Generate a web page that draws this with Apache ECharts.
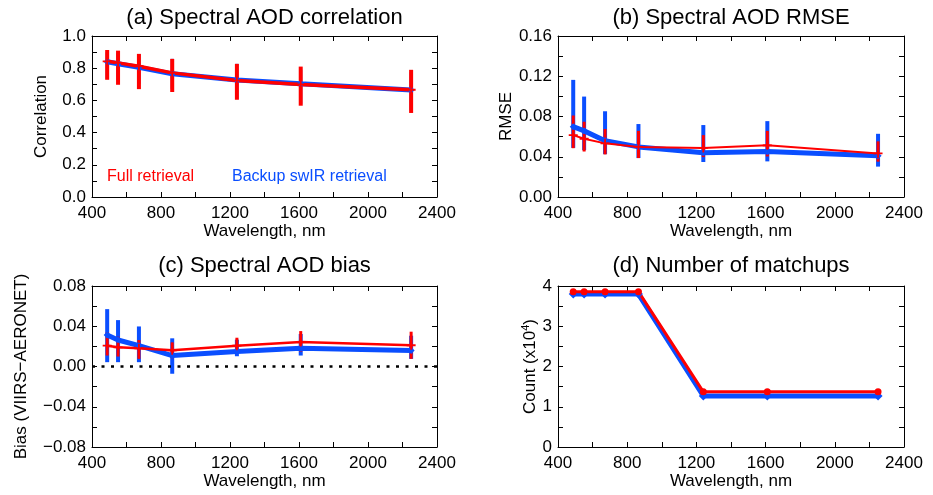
<!DOCTYPE html>
<html lang="en">
<head>
<meta charset="UTF-8">
<title>Spectral AOD validation</title>
<style>
  html, body { margin: 0; padding: 0; background: #fff; }
  #main { width: 933px; height: 495px; }
</style>
</head>
<body>
<div id="main"></div>
<script src="https://cdn.jsdelivr.net/npm/echarts@6/dist/echarts.min.js"></script>
<script>
// band centres, nm
var wavelengths = [488, 551, 672, 865, 1240, 1610, 2250];

// (a) correlation
var corrFull   = [0.843, 0.833, 0.812, 0.771, 0.724, 0.699, 0.666];
var corrFullLo = [0.728, 0.697, 0.670, 0.652, 0.604, 0.567, 0.522];
var corrFullHi = [0.913, 0.909, 0.889, 0.858, 0.827, 0.810, 0.790];
var corrSwir   = [0.840, 0.828, 0.805, 0.765, 0.727, 0.703, 0.665];
var corrSwirLo = [0.734, 0.724, 0.703, 0.672, 0.610, 0.579, 0.538];
var corrSwirHi = [0.899, 0.893, 0.885, 0.858, 0.827, 0.790, 0.775];

// (b) rmse
var rmseFull   = [0.0615, 0.0579, 0.0533, 0.0498, 0.0488, 0.0514, 0.0433];
var rmseFullLo = [0.0485, 0.0452, 0.0423, 0.0387, 0.0397, 0.0403, 0.0351];
var rmseFullHi = [0.0810, 0.0748, 0.0676, 0.0657, 0.0615, 0.0657, 0.0553];
var rmseSwir   = [0.0699, 0.0657, 0.0560, 0.0498, 0.0439, 0.0452, 0.0410];
var rmseSwirLo = [0.0488, 0.0465, 0.0426, 0.0387, 0.0348, 0.0354, 0.0302];
var rmseSwirHi = [0.1164, 0.0998, 0.0852, 0.0725, 0.0715, 0.0754, 0.0628];

// (c) bias
var biasFull   = [0.0207, 0.0191, 0.0181, 0.0161, 0.0207, 0.0244, 0.0211];
var biasFullLo = [0.0109, 0.0099, 0.0076, 0.0082, 0.0125, 0.0148, 0.0076];
var biasFullHi = [0.0339, 0.0296, 0.0263, 0.0240, 0.0286, 0.0352, 0.0346];
var biasSwir   = [0.0313, 0.0263, 0.0207, 0.0109, 0.0148, 0.0181, 0.0158];
var biasSwirLo = [0.0043, 0.0043, 0.0043, -0.0072, 0.0102, 0.0109, 0.0076];
var biasSwirHi = [0.0570, 0.0461, 0.0398, 0.0280, 0.0267, 0.0323, 0.0306];

// (d) matchups, x10^4
var countFull = [3.86, 3.86, 3.86, 3.86, 1.37, 1.37, 1.37];
var countSwir = [3.80, 3.80, 3.80, 3.80, 1.27, 1.27, 1.27];

var RED = '#ff0000';
var BLUE = '#0a4eff';
var FONT = 'Liberation Sans';
var PLUS = 'path://M4,0H6V4H10V6H6V10H4V6H0V4H4Z';

var myChart = echarts.init(document.getElementById('main'));

function pairs(vals) {
    return wavelengths.map(function (w, i) { return [w, vals[i]]; });
}

// vertical error bars drawn through the axes
function errorBars(lo, hi, color, width, g) {
    return {
        type: 'custom',
        xAxisIndex: 2 * g,
        yAxisIndex: 2 * g,
        silent: true,
        encode: { x: 0, y: [1, 2] },
        data: wavelengths.map(function (w, i) { return [w, lo[i], hi[i]]; }),
        renderItem: function (params, api) {
            var a = api.coord([api.value(0), api.value(1)]);
            var b = api.coord([api.value(0), api.value(2)]);
            return {
                type: 'line',
                shape: { x1: a[0], y1: a[1], x2: b[0], y2: b[1] },
                style: { stroke: color, lineWidth: width }
            };
        }
    };
}

function line(vals, color, width, g, symbol, size) {
    return {
        type: 'line',
        xAxisIndex: 2 * g,
        yAxisIndex: 2 * g,
        data: pairs(vals),
        symbol: symbol,
        symbolSize: size,
        showSymbol: true,
        lineStyle: { color: color, width: width },
        itemStyle: { color: color, borderWidth: 0 }
    };
}

var grids = [
    { left: 92, top: 36, width: 345, height: 161 },
    { left: 558, top: 36, width: 346, height: 161 },
    { left: 92, top: 286, width: 345, height: 161 },
    { left: 558, top: 286, width: 346, height: 161 }
];

// y ranges: min, max, tick step, label step, decimals, name, name gap
var yDefs = [
    { min: 0, max: 1, step: 0.1, every: 2, dec: 1, name: 'Correlation', gap: 42 },
    { min: 0, max: 0.16, step: 0.02, every: 2, dec: 2, name: 'RMSE', gap: 43 },
    { min: -0.08, max: 0.08, step: 0.02, every: 2, dec: 2, name: 'Bias (VIIRS\u2212AERONET)', gap: 62 },
    { min: 0, max: 4, step: 0.5, every: 2, dec: 0, name: 'Count (x10{sup|4})', gap: 18 }
];

var axisLine = { show: true, onZero: false, lineStyle: { color: '#000', width: 1 } };
var tick = { show: true, inside: true, length: 5, lineStyle: { color: '#000', width: 1 } };
var labelText = { color: '#000', fontFamily: FONT, fontSize: 17 };

var xAxes = [], yAxes = [];
grids.forEach(function (gr, g) {
    xAxes.push({
        type: 'value', gridIndex: g, position: 'bottom',
        min: 400, max: 2400, interval: 200,
        axisLine: axisLine, axisTick: tick, splitLine: { show: false },
        axisLabel: Object.assign({
            margin: 8,
            showMinLabel: true, showMaxLabel: true,
            formatter: function (v) { return v % 400 === 0 ? String(v) : ''; }
        }, labelText),
        name: 'Wavelength, nm', nameLocation: 'middle', nameGap: 24,
        nameTextStyle: labelText
    });
    xAxes.push({
        type: 'value', gridIndex: g, position: 'top',
        min: 400, max: 2400, interval: 200,
        axisLine: axisLine, axisTick: tick, splitLine: { show: false },
        axisLabel: { show: false }
    });
    var d = yDefs[g];
    yAxes.push({
        type: 'value', gridIndex: g, position: 'left',
        min: d.min, max: d.max, interval: d.step,
        axisLine: axisLine, axisTick: tick, splitLine: { show: false },
        axisLabel: Object.assign({
            margin: 6,
            showMinLabel: true, showMaxLabel: true,
            formatter: function (v) {
                var k = Math.round((v - d.min) / d.step);
                if (k % d.every !== 0) return '';
                var s = Math.abs(v) < 1e-9 ? (0).toFixed(d.dec) : v.toFixed(d.dec);
                return s.replace('-', '\u2212');
            }
        }, labelText),
        name: d.name, nameLocation: 'middle', nameGap: d.gap,
        nameTextStyle: Object.assign({
            rich: { sup: { fontFamily: FONT, fontSize: 11, verticalAlign: 'top', padding: [0, 0, 8, 0], color: '#000' } }
        }, labelText)
    });
    yAxes.push({
        type: 'value', gridIndex: g, position: 'right',
        min: d.min, max: d.max, interval: d.step,
        axisLine: axisLine, axisTick: tick, splitLine: { show: false },
        axisLabel: { show: false }
    });
});

var series = [
    // (a)
    line(corrSwir, BLUE, 5, 0, 'diamond', 7),
    errorBars(corrSwirLo, corrSwirHi, BLUE, 3, 0),
    line(corrFull, RED, 3.5, 0, PLUS, 9),
    errorBars(corrFullLo, corrFullHi, RED, 4, 0),
    // (b)
    line(rmseSwir, BLUE, 5, 1, 'diamond', 7),
    errorBars(rmseSwirLo, rmseSwirHi, BLUE, 4, 1),
    line(rmseFull, RED, 2, 1, PLUS, 9),
    errorBars(rmseFullLo, rmseFullHi, RED, 3, 1),
    // (c)
    Object.assign(line(biasSwir, BLUE, 5, 2, 'diamond', 7), {
        markLine: {
            silent: true, symbol: 'none', label: { show: false },
            lineStyle: { color: '#000', type: [3, 6.5], width: 2.5 },
            data: [{ yAxis: 0 }]
        }
    }),
    errorBars(biasSwirLo, biasSwirHi, BLUE, 4, 2),
    line(biasFull, RED, 2.5, 2, PLUS, 9),
    errorBars(biasFullLo, biasFullHi, RED, 3, 2),
    // (d)
    line(countSwir, BLUE, 5, 3, 'diamond', 9),
    line(countFull, RED, 3, 3, 'circle', 7)
];

function title(text, x, y) {
    return {
        type: 'text', x: x, y: y,
        style: {
            text: text, fill: '#000', font: '22px "' + FONT + '"',
            textAlign: 'center', textVerticalAlign: 'middle',
            align: 'center', verticalAlign: 'middle'
        }
    };
}

function note(text, x, y, color) {
    return {
        type: 'text', x: x, y: y,
        style: {
            text: text, fill: color, font: '16px "' + FONT + '"',
            textAlign: 'left', textVerticalAlign: 'middle',
            align: 'left', verticalAlign: 'middle'
        }
    };
}

var option = {
    animation: false,
    backgroundColor: '#fff',
    grid: grids,
    xAxis: xAxes,
    yAxis: yAxes,
    series: series,
    graphic: [
        title('(a) Spectral AOD correlation', 264.5, 18),
        title('(b) Spectral AOD RMSE', 731, 18),
        title('(c) Spectral AOD bias', 264.5, 266),
        title('(d) Number of matchups', 731, 266),
        note('Full retrieval', 107, 177, RED),
        note('Backup swIR retrieval', 232, 177, BLUE)
    ]
};

myChart.setOption(option);
</script>
</body>
</html>
